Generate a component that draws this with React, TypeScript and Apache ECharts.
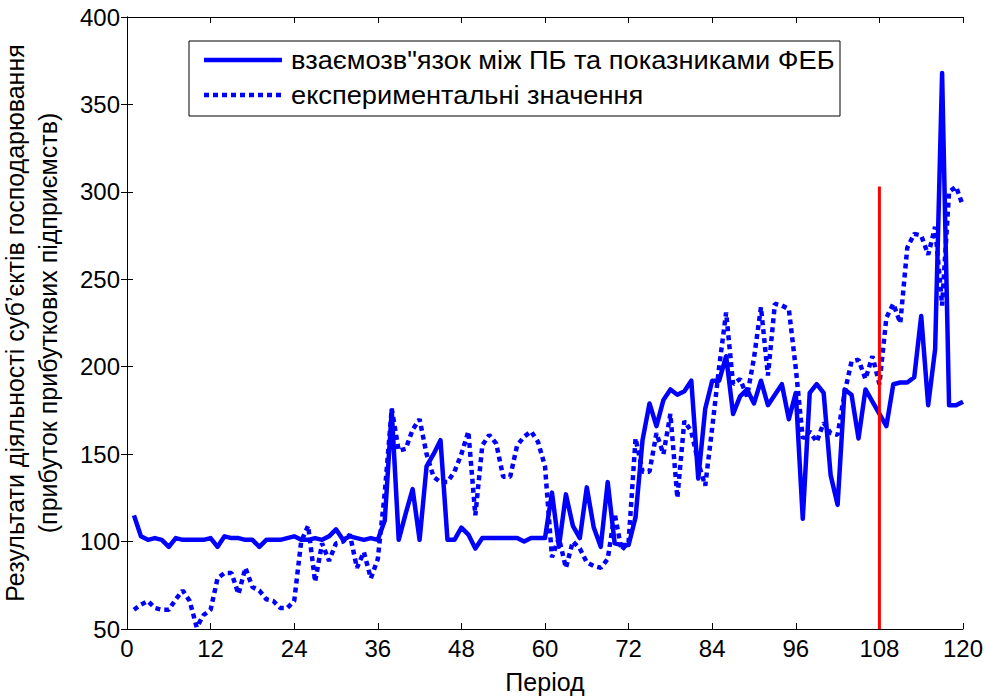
import React, { useEffect, useRef } from "react";
import * as echarts from "echarts";

// Period index (1..120)
const periods: number[] = Array.from({ length: 120 }, (_, i) => i + 1);

// взаємозв"язок між ПБ та показниками ФЕБ (solid)
const modelValues: number[] = [
  115, 103, 101, 102, 101, 97, 102, 101, 101, 101,
  101, 102, 97, 103, 102, 102, 101, 101, 97, 101,
  101, 101, 102, 103, 101, 101, 102, 101, 103, 107,
  101, 103, 102, 101, 102, 101, 112, 175, 101, 116,
  130, 101, 143, 150, 158, 101, 101, 108, 104, 96,
  102, 102, 102, 102, 102, 102, 100, 102, 102, 102,
  128, 97, 127, 109, 102, 131, 108, 97, 134, 99,
  98, 98, 114, 158, 179, 166, 181, 187, 184, 186,
  192, 136, 176, 192, 192, 206, 173, 183, 187, 179,
  192, 178, 184, 190, 170, 185, 113, 185, 190, 185,
  138, 121, 187, 184, 159, 187, 180, 173, 166, 190,
  191, 191, 194, 229, 178, 210, 368, 178, 178, 180,
];

// експериментальні значення (dotted)
const experimentValues: number[] = [
  61, 64, 66, 62, 61, 61, 67, 72, 66, 51,
  58, 61, 79, 82, 82, 70, 85, 74, 72, 67,
  66, 62, 62, 66, 100, 109, 77, 99, 89, 99,
  100, 104, 85, 94, 79, 90, 128, 176, 152, 153,
  164, 170, 150, 137, 134, 134, 140, 150, 163, 115,
  155, 161, 156, 137, 137, 155, 160, 163, 157, 143,
  91, 102, 85, 100, 96, 88, 86, 85, 90, 116,
  95, 100, 159, 140, 140, 162, 150, 173, 125, 169,
  163, 145, 132, 165, 200, 231, 190, 193, 183, 205,
  234, 195, 236, 235, 233, 199, 159, 163, 157, 168,
  162, 161, 185, 203, 204, 193, 206, 190, 228, 236,
  225, 268, 276, 275, 264, 280, 235, 300, 303, 292,
];

const seriesNames: string[] = [
  "взаємозв\"язок між ПБ та показниками ФЕБ",
  "експериментальні значення",
];

// Red vertical marker (forecast boundary)
const markerX = 108;
const markerBottom = 50;
const markerTop = 303;

const xTicks = { min: 0, max: 120, interval: 12 };
const yTicks = { min: 50, max: 400, interval: 50 };

const FONT = "'Liberation Sans', Arial, Helvetica, sans-serif";
const BLUE = "#0000ff";
const DOT: number[] = [5, 4];

export default function App() {
  const ref = useRef<HTMLDivElement>(null);
  useEffect(() => {
    if (!ref.current) return;
    const chart = echarts.init(ref.current, null, { renderer: "svg" });
    const axisCommon = {
      axisLine: { show: true, lineStyle: { color: "#000", width: 1 } },
      axisTick: { show: true, inside: true, length: 6, lineStyle: { color: "#000", width: 1 } },
      splitLine: { show: false },
    };
    const legendX = 189;
    const legendY = 41;
    const legendW = 651;
    const legendH = 75;
    const rowY = [60, 95];
    chart.setOption({
      animation: false,
      backgroundColor: "#fff",
      textStyle: { fontFamily: FONT },
      grid: {
        left: 127,
        right: 26,
        top: 17,
        bottom: 69,
        containLabel: false,
        outerBoundsMode: "none",
      },
      graphic: [
        {
          type: "group",
          z: 100,
          children: [
            {
              type: "rect",
              shape: { x: legendX, y: legendY, width: legendW, height: legendH },
              style: { fill: "#fff", stroke: "#000", lineWidth: 1 },
            },
            {
              type: "line",
              shape: { x1: 204, y1: rowY[0], x2: 282, y2: rowY[0] },
              style: { stroke: BLUE, lineWidth: 4.5 },
            },
            {
              type: "line",
              shape: { x1: 204, y1: rowY[1], x2: 282, y2: rowY[1] },
              style: { stroke: BLUE, lineWidth: 4.5, lineDash: DOT },
            },
            {
              type: "text",
              x: 291,
              y: rowY[0],
              scaleX: 1.09,
              style: {
                text: seriesNames[0],
                fontSize: 25,
                fontFamily: FONT,
                fill: "#000",
                verticalAlign: "middle",
                align: "left",
              },
            },
            {
              type: "text",
              x: 291,
              y: rowY[1],
              scaleX: 1.09,
              style: {
                text: seriesNames[1],
                fontSize: 25,
                fontFamily: FONT,
                fill: "#000",
                verticalAlign: "middle",
                align: "left",
              },
            },
          ],
        },
      ],
      xAxis: [
        {
          type: "value",
          ...xTicks,
          ...axisCommon,
          name: "Період",
          nameLocation: "middle",
          nameGap: 40,
          nameTextStyle: { fontSize: 25, color: "#000", fontFamily: FONT },
          axisLabel: { fontSize: 24, color: "#000", margin: 7, fontFamily: FONT },
        },
        {
          type: "value",
          position: "top",
          ...xTicks,
          ...axisCommon,
          axisLabel: { show: false },
        },
      ],
      yAxis: [
        {
          type: "value",
          ...yTicks,
          ...axisCommon,
          name: "Результати діяльності суб’єктів господарювання\n(прибуток прибуткових підприємств)",
          nameLocation: "middle",
          nameRotate: 90,
          nameGap: 63,
          nameTextStyle: { fontSize: 25, color: "#000", lineHeight: 33, fontFamily: FONT },
          axisLabel: { fontSize: 24, color: "#000", margin: 7, fontFamily: FONT },
        },
        {
          type: "value",
          position: "right",
          ...yTicks,
          ...axisCommon,
          axisLabel: { show: false },
        },
      ],
      series: [
        {
          name: seriesNames[0],
          type: "line",
          data: periods.map((p, i) => [p, modelValues[i]]),
          symbol: "none",
          lineStyle: { color: BLUE, width: 4.5, join: "round" },
          itemStyle: { color: BLUE },
          z: 3,
        },
        {
          name: seriesNames[1],
          type: "line",
          data: periods.map((p, i) => [p, experimentValues[i]]),
          symbol: "none",
          lineStyle: { color: BLUE, width: 4.5, type: DOT, cap: "butt" },
          itemStyle: { color: BLUE },
          z: 2,
        },
        {
          name: "marker",
          type: "line",
          data: [
            [markerX, markerBottom],
            [markerX, markerTop],
          ],
          symbol: "none",
          lineStyle: { color: "#ff0000", width: 3 },
          itemStyle: { color: "#ff0000" },
          silent: true,
          z: 4,
        },
      ],
    });
    return () => chart.dispose();
  }, []);
  return <div ref={ref} style={{ width: 989, height: 698, position: "absolute", left: 0, top: 0 }} />;
}
